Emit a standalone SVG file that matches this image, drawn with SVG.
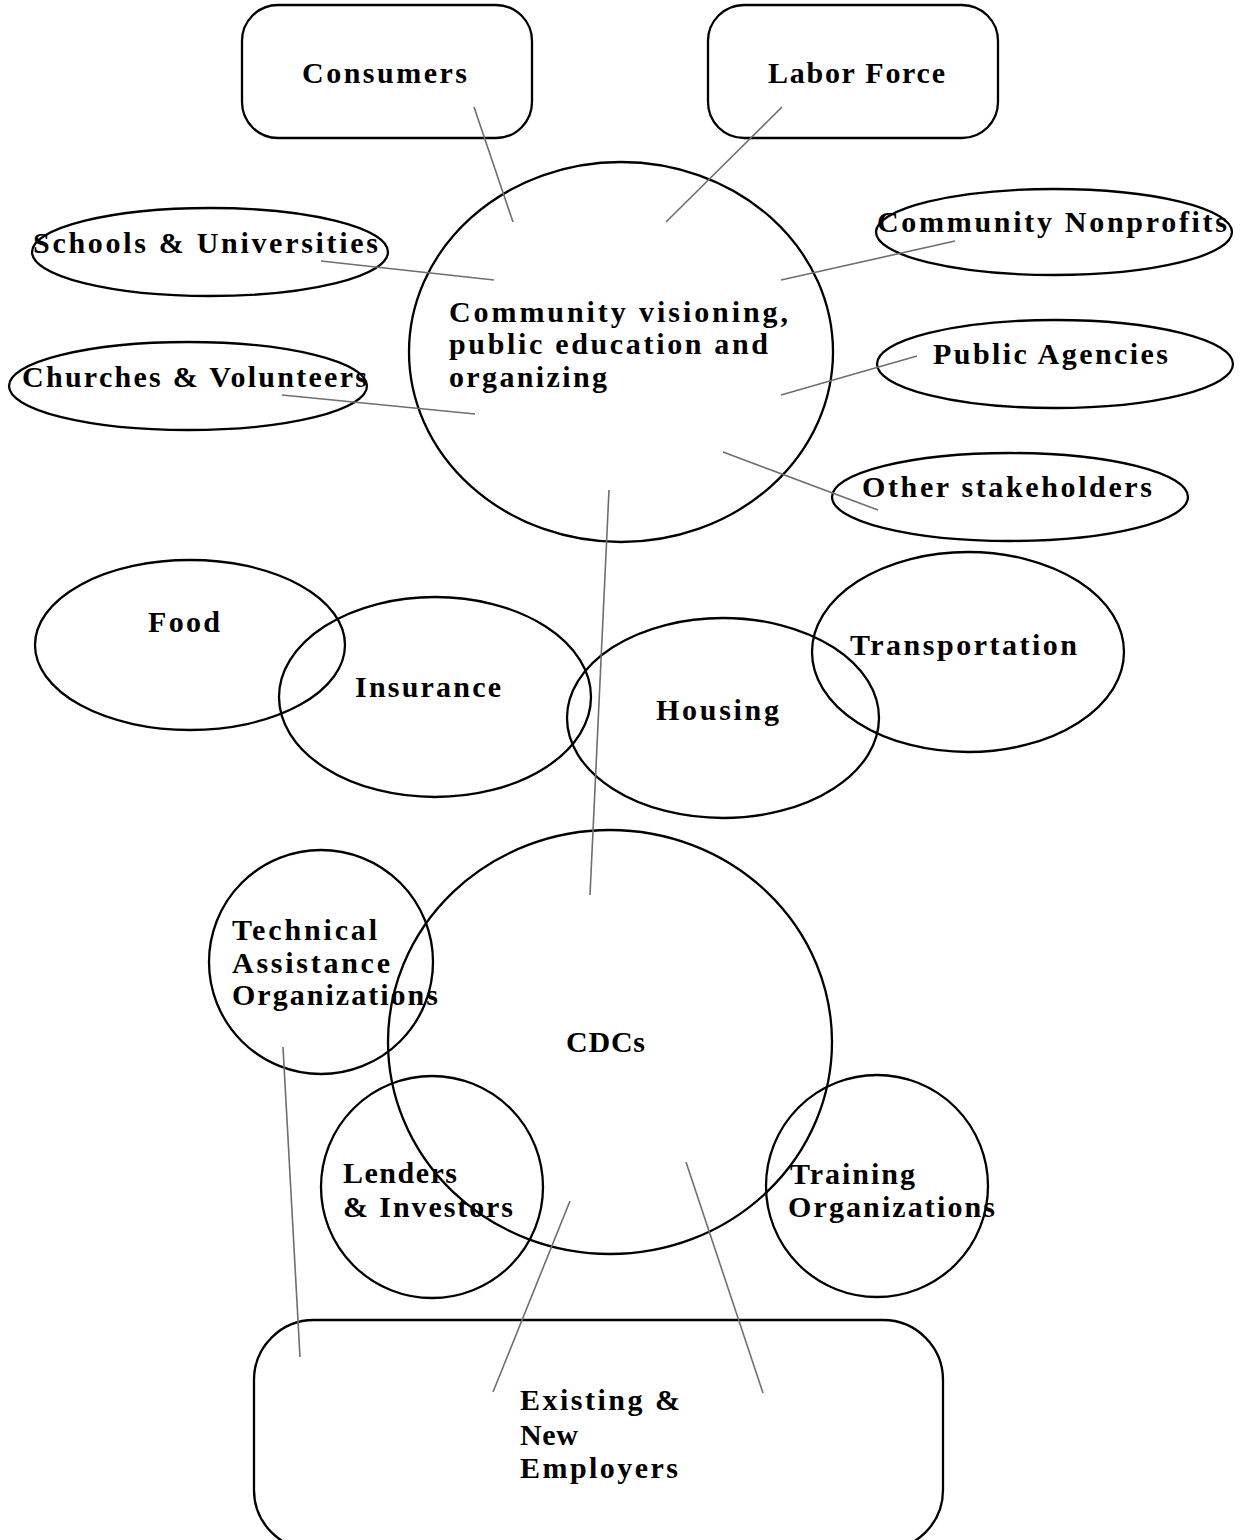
<svg xmlns="http://www.w3.org/2000/svg" width="1241" height="1540" viewBox="0 0 1241 1540">
<style>
.s{fill:none;stroke:#000;stroke-width:2.3}
.t{font-family:"Liberation Serif","Times New Roman",serif;font-weight:bold;font-size:30px;fill:#000}
.c{stroke:#6e6e6e;stroke-width:1.6;fill:none}
</style>
<rect width="1241" height="1540" fill="#fff"/>
<g id="consumers"><rect class="s" x="242" y="5" width="290" height="133" rx="36"/><text class="t" x="302" y="83" textLength="165" lengthAdjust="spacing">Consumers</text></g>
<g id="labor-force"><rect class="s" x="708" y="5" width="290" height="133" rx="36"/><text class="t" x="768" y="83" textLength="177" lengthAdjust="spacing">Labor Force</text></g>
<g id="visioning"><ellipse class="s" cx="621" cy="352" rx="212" ry="190"/>
<text class="t" x="449" y="322" textLength="339" lengthAdjust="spacing">Community visioning,</text>
<text class="t" x="449" y="354" textLength="319" lengthAdjust="spacing">public education and</text>
<text class="t" x="449" y="387" textLength="158" lengthAdjust="spacing">organizing</text></g>
<g id="schools"><ellipse class="s" cx="210" cy="252" rx="178" ry="44"/><text class="t" x="33" y="253" textLength="345" lengthAdjust="spacing">Schools &amp; Universities</text></g>
<g id="churches"><ellipse class="s" cx="188" cy="386" rx="179" ry="44"/><text class="t" x="22" y="387" textLength="345" lengthAdjust="spacing">Churches &amp; Volunteers</text></g>
<g id="nonprofits"><ellipse class="s" cx="1054" cy="232" rx="178" ry="43"/><text class="t" x="877" y="232" textLength="350" lengthAdjust="spacing">Community Nonprofits</text></g>
<g id="public-agencies"><ellipse class="s" cx="1055" cy="364" rx="178" ry="44"/><text class="t" x="933" y="364" textLength="235" lengthAdjust="spacing">Public Agencies</text></g>
<g id="other-stakeholders"><ellipse class="s" cx="1010" cy="497" rx="178" ry="44"/><text class="t" x="862" y="497" textLength="290" lengthAdjust="spacing">Other stakeholders</text></g>
<g id="food"><ellipse class="s" cx="190" cy="645" rx="155" ry="85"/><text class="t" x="148" y="632" textLength="72" lengthAdjust="spacing">Food</text></g>
<g id="insurance"><ellipse class="s" cx="435" cy="697" rx="156" ry="100"/><text class="t" x="355" y="697" textLength="146" lengthAdjust="spacing">Insurance</text></g>
<g id="housing"><ellipse class="s" cx="723" cy="718" rx="156" ry="100"/><text class="t" x="656" y="720" textLength="123" lengthAdjust="spacing">Housing</text></g>
<g id="transportation"><ellipse class="s" cx="968" cy="652" rx="156" ry="100"/><text class="t" x="850" y="655" textLength="227" lengthAdjust="spacing">Transportation</text></g>
<g id="cdcs"><ellipse class="s" cx="610" cy="1042" rx="222" ry="212"/><text class="t" x="566" y="1052" textLength="79" lengthAdjust="spacing">CDCs</text></g>
<g id="technical-assistance"><circle class="s" cx="321" cy="962" r="112"/>
<text class="t" x="232" y="940" textLength="145" lengthAdjust="spacing">Technical</text>
<text class="t" x="232" y="973" textLength="158" lengthAdjust="spacing">Assistance</text>
<text class="t" x="232" y="1005" textLength="206" lengthAdjust="spacing">Organizations</text></g>
<g id="lenders"><circle class="s" cx="432" cy="1187" r="111"/>
<text class="t" x="343" y="1183" textLength="114" lengthAdjust="spacing">Lenders</text>
<text class="t" x="343" y="1217" textLength="170" lengthAdjust="spacing">&amp; Investors</text></g>
<g id="training"><circle class="s" cx="877" cy="1186" r="111"/>
<text class="t" x="790" y="1184" textLength="125" lengthAdjust="spacing">Training</text>
<text class="t" x="788" y="1217" textLength="207" lengthAdjust="spacing">Organizations</text></g>
<g id="employers"><rect class="s" x="254" y="1320" width="689" height="230" rx="60"/>
<text class="t" x="520" y="1410" textLength="160" lengthAdjust="spacing">Existing &amp;</text>
<text class="t" x="520" y="1445" textLength="58" lengthAdjust="spacing">New</text>
<text class="t" x="520" y="1478" textLength="158" lengthAdjust="spacing">Employers</text></g>
<g id="connectors">
<line class="c" x1="474" y1="107" x2="513" y2="222"/>
<line class="c" x1="782" y1="107" x2="666" y2="222"/>
<line class="c" x1="321" y1="261" x2="494" y2="280"/>
<line class="c" x1="282" y1="395" x2="475" y2="414"/>
<line class="c" x1="781" y1="280" x2="955" y2="241"/>
<line class="c" x1="781" y1="395" x2="917" y2="356"/>
<line class="c" x1="723" y1="452" x2="878" y2="510"/>
<line class="c" x1="609" y1="490" x2="590" y2="895"/>
<line class="c" x1="283" y1="1047" x2="300" y2="1357"/>
<line class="c" x1="570" y1="1201" x2="493" y2="1392"/>
<line class="c" x1="686" y1="1162" x2="763" y2="1393"/>
</g>
</svg>
